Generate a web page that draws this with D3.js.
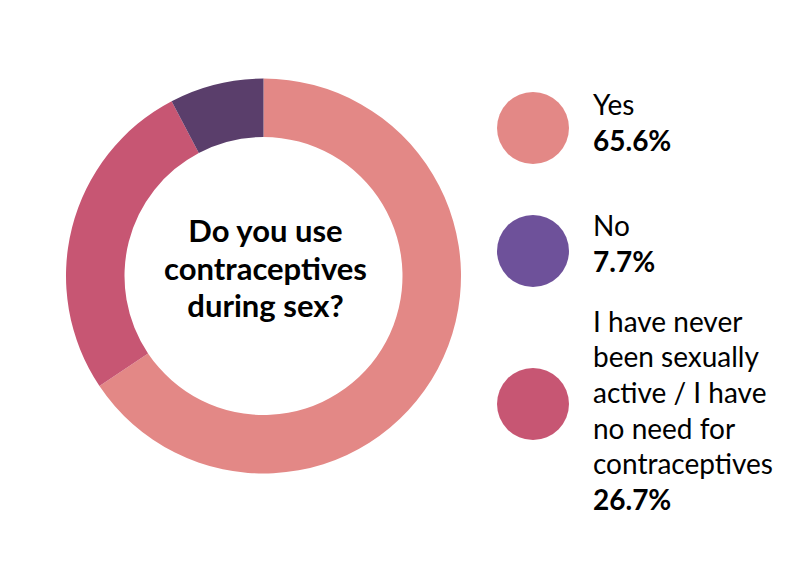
<!DOCTYPE html>
<html><head><meta charset="utf-8">
<script src="https://cdn.jsdelivr.net/npm/d3@7"></script>
<style>body{margin:0;background:#fff}svg{display:block}text{font-family:Lato,"Open Sans",sans-serif}</style>
</head><body><svg id="c" width="812" height="570"></svg>
<script>
const categories = ["Yes", "I have never been sexually active / I have no need for contraceptives", "No"];
const values = [65.6, 26.7, 7.7];
const arcColors = ["#e38886", "#c75673", "#5a3e6b"];
const legendItems = ["Yes", "No", "I have never been sexually active / I have no need for contraceptives"];
const legendLines = [["Yes"], ["No"], ["I have never", "been sexually", "active / I have", "no need for", "contraceptives"]];
const legendValues = [65.6, 7.7, 26.7];
const legendColors = ["#e38886", "#6e519a", "#c75673"];
const titleLines = ["Do you use", "contraceptives", "during sex?"];

const svg = d3.select("#c");
const cx = 263.5, cy = 276, R = 197.5, r = 139;
const pie = d3.pie().sort(null).value(d => d.v);
const arc = d3.arc().innerRadius(r).outerRadius(R);
const data = categories.map((c, i) => ({c, v: values[i], col: arcColors[i]}));
const g = svg.append("g").attr("transform", `translate(${cx},${cy})`);
g.selectAll("path").data(pie(data)).join("path").attr("d", arc).attr("fill", d => d.data.col);

const t = g.append("text").attr("text-anchor", "middle").attr("font-weight", 700).attr("font-size", 31).attr("fill", "#000");
titleLines.forEach((l, i) => t.append("tspan").attr("x", 2).attr("y", -34 + i * 37.5).text(l));

const fmt = d => d3.format(".1f")(d) + "%";
const lg = svg.append("g");
const circleY = [128, 251, 404];
const textY = [[115], [236], [331.7]];
const lh = 35.6;
legendItems.forEach((name, i) => {
  const item = lg.append("g");
  item.append("circle").attr("cx", 533).attr("cy", circleY[i]).attr("r", 36).attr("fill", legendColors[i]);
  const tx = item.append("text").attr("font-size", 28).attr("fill", "#000");
  const lines = legendLines[i];
  lines.forEach((l, j) => tx.append("tspan").attr("x", 593).attr("y", textY[i][0] + j * lh).text(l));
  tx.append("tspan").attr("x", 593).attr("y", textY[i][0] + lines.length * lh).attr("font-weight", 700).text(fmt(legendValues[i]));
});
</script></body></html>
